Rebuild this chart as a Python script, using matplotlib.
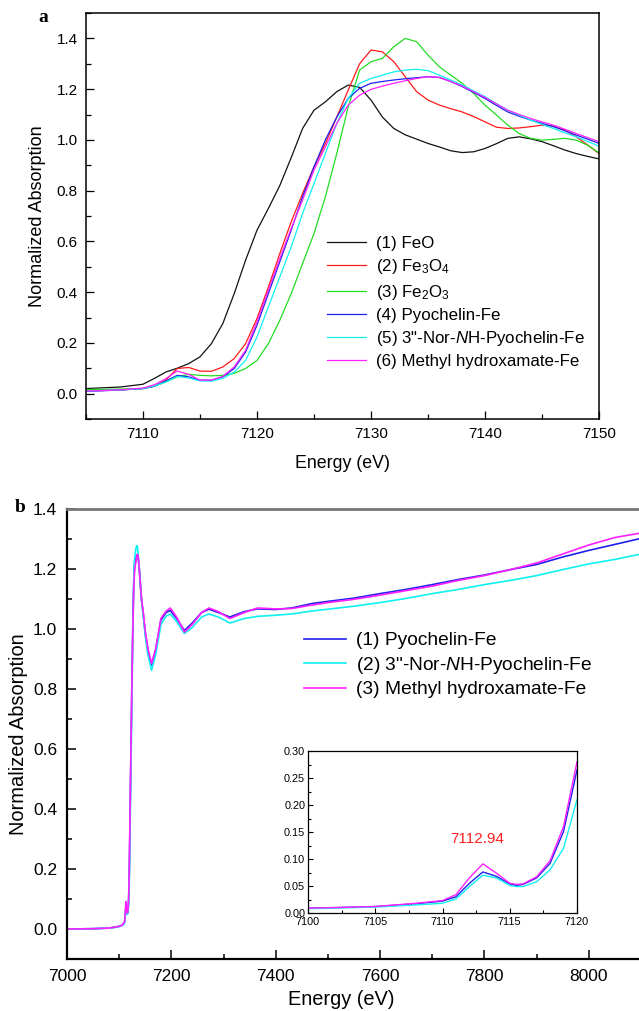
import numpy as np
import matplotlib
matplotlib.use("Agg")
import matplotlib.pyplot as plt
from matplotlib.ticker import MultipleLocator, FormatStrFormatter

plt.rcParams["font.family"] = ["Liberation Sans", "DejaVu Sans"]
plt.rcParams["mathtext.fontset"] = "custom"
plt.rcParams["mathtext.rm"] = "Liberation Sans"
plt.rcParams["mathtext.it"] = "Liberation Sans:italic"

# ---------------------------------------------------------------------------
# Panel a: XANES edge region, 7105-7150 eV
# ---------------------------------------------------------------------------
energy_a = [7105, 7108, 7110, 7111, 7112, 7113, 7114, 7115, 7116, 7117, 7118,
            7119, 7120, 7121, 7122, 7123, 7124, 7125, 7126, 7127, 7128, 7129,
            7130, 7131, 7132, 7133, 7134, 7135, 7136, 7137, 7138, 7139, 7140,
            7141, 7142, 7143, 7144, 7145, 7146, 7147, 7148, 7149, 7150]

feo = [0.020, 0.026, 0.037, 0.060, 0.085, 0.100, 0.118, 0.145, 0.197, 0.276,
       0.394, 0.526, 0.644, 0.730, 0.820, 0.930, 1.045, 1.117, 1.150, 1.190,
       1.216, 1.207, 1.157, 1.090, 1.045, 1.020, 1.003, 0.986, 0.972, 0.957,
       0.950, 0.953, 0.966, 0.985, 1.006, 1.012, 1.004, 0.993, 0.977, 0.960,
       0.946, 0.935, 0.925]
fe3o4 = [0.010, 0.015, 0.020, 0.029, 0.053, 0.099, 0.103, 0.089, 0.088, 0.105,
         0.138, 0.197, 0.296, 0.420, 0.552, 0.677, 0.789, 0.894, 0.986, 1.090,
         1.196, 1.300, 1.354, 1.347, 1.308, 1.249, 1.190, 1.157, 1.137, 1.123,
         1.110, 1.092, 1.071, 1.050, 1.045, 1.047, 1.052, 1.058, 1.054, 1.039,
         1.012, 0.980, 0.946]
fe2o3 = [0.016, 0.018, 0.020, 0.029, 0.046, 0.066, 0.076, 0.072, 0.070, 0.072,
         0.080, 0.099, 0.131, 0.197, 0.289, 0.394, 0.513, 0.631, 0.776, 0.947,
         1.130, 1.275, 1.308, 1.321, 1.367, 1.400, 1.387, 1.334, 1.288, 1.255,
         1.223, 1.183, 1.137, 1.098, 1.058, 1.025, 1.006, 0.999, 1.002, 1.006,
         0.999, 0.979, 0.949]
pyochelin = [0.009, 0.014, 0.020, 0.029, 0.050, 0.072, 0.066, 0.053, 0.053,
             0.066, 0.099, 0.164, 0.270, 0.394, 0.520, 0.644, 0.776, 0.894,
             1.000, 1.090, 1.163, 1.203, 1.223, 1.230, 1.236, 1.241, 1.245,
             1.249, 1.246, 1.230, 1.210, 1.187, 1.163, 1.136, 1.110, 1.093,
             1.078, 1.065, 1.052, 1.036, 1.019, 1.003, 0.986]
nor_nh = [0.010, 0.015, 0.020, 0.030, 0.046, 0.068, 0.062, 0.050, 0.049, 0.060,
          0.085, 0.131, 0.223, 0.342, 0.460, 0.578, 0.710, 0.828, 0.947, 1.065,
          1.163, 1.223, 1.242, 1.255, 1.268, 1.275, 1.278, 1.273, 1.255, 1.236,
          1.216, 1.193, 1.170, 1.143, 1.117, 1.097, 1.078, 1.061, 1.045, 1.028,
          1.012, 0.994, 0.975]
methyl = [0.010, 0.015, 0.022, 0.035, 0.059, 0.089, 0.076, 0.053, 0.053, 0.068,
          0.105, 0.171, 0.283, 0.408, 0.532, 0.651, 0.763, 0.881, 0.973, 1.065,
          1.137, 1.176, 1.199, 1.212, 1.223, 1.233, 1.242, 1.249, 1.246, 1.230,
          1.212, 1.190, 1.167, 1.142, 1.117, 1.100, 1.084, 1.071, 1.058, 1.042,
          1.025, 1.009, 0.993]

# ---------------------------------------------------------------------------
# Inset of panel b: pre-edge, 7100-7120 eV
# ---------------------------------------------------------------------------
energy_in = [7100, 7102, 7105, 7108, 7110, 7111, 7112, 7113, 7114, 7115,
             7115.5, 7116, 7117, 7118, 7119, 7120]
pyo_in = [0.009, 0.010, 0.012, 0.017, 0.022, 0.030, 0.055, 0.076, 0.068,
          0.054, 0.051, 0.053, 0.065, 0.092, 0.151, 0.265]
nor_in = [0.008, 0.009, 0.011, 0.015, 0.018, 0.026, 0.049, 0.070, 0.065,
          0.051, 0.049, 0.049, 0.058, 0.080, 0.120, 0.210]
met_in = [0.009, 0.010, 0.012, 0.018, 0.023, 0.034, 0.065, 0.091, 0.074,
          0.055, 0.053, 0.054, 0.067, 0.097, 0.160, 0.280]

# ---------------------------------------------------------------------------
# Panel b: full spectra; pre-edge start and EXAFS tail
# ---------------------------------------------------------------------------
energy_pre = [7000, 7050, 7080, 7095]
pyo_pre = [0.000, 0.001, 0.003, 0.007]
nor_pre = [0.000, 0.001, 0.003, 0.006]
met_pre = [0.000, 0.001, 0.003, 0.007]

energy_tail = [7155, 7162, 7170, 7180, 7190, 7198, 7210, 7225, 7240, 7258,
               7272, 7290, 7312, 7340, 7365, 7400, 7430, 7470, 7500, 7550,
               7600, 7650, 7700, 7750, 7800, 7850, 7900, 7950, 8000, 8050,
               8100]
pyo_tail = [0.930, 0.880, 0.930, 1.030, 1.055, 1.062, 1.035, 0.995, 1.020,
            1.055, 1.066, 1.055, 1.040, 1.058, 1.067, 1.065, 1.070, 1.085,
            1.092, 1.103, 1.118, 1.132, 1.148, 1.165, 1.180, 1.198, 1.215,
            1.240, 1.262, 1.282, 1.302]
nor_tail = [0.915, 0.862, 0.915, 1.015, 1.043, 1.050, 1.025, 0.985, 1.005,
            1.040, 1.050, 1.040, 1.020, 1.035, 1.042, 1.046, 1.050, 1.060,
            1.066, 1.076, 1.088, 1.102, 1.118, 1.132, 1.148, 1.162, 1.178,
            1.198, 1.217, 1.232, 1.250]
met_tail = [0.935, 0.885, 0.935, 1.035, 1.060, 1.070, 1.040, 0.990, 1.015,
            1.055, 1.070, 1.058, 1.035, 1.055, 1.070, 1.067, 1.068, 1.080,
            1.088, 1.099, 1.113, 1.128, 1.143, 1.162, 1.178, 1.198, 1.220,
            1.250, 1.280, 1.305, 1.320]

labels_a = ["(1) FeO", r"(2) Fe$_3$O$_4$", r"(3) Fe$_2$O$_3$",
            "(4) Pyochelin-Fe", r'(5) 3"-Nor-$\mathit{N}$H-Pyochelin-Fe',
            "(6) Methyl hydroxamate-Fe"]
labels_b = ["(1) Pyochelin-Fe", r'(2) 3"-Nor-$\mathit{N}$H-Pyochelin-Fe',
            "(3) Methyl hydroxamate-Fe"]
colors_a = ["#111111", "#ff1a1a", "#22dd22", "#2020ee", "#10f0f0", "#ff20ff"]
colors_b = ["#2020ee", "#10f0f0", "#ff20ff"]

fig = plt.figure(figsize=(6.39, 10.11), dpi=100)

# ---- panel a --------------------------------------------------------------
ax = fig.add_axes([86 / 639, 1 - 419 / 1011, 513 / 639, 406 / 1011])
for y, c, lab in zip([feo, fe3o4, fe2o3, pyochelin, nor_nh, methyl],
                     colors_a, labels_a):
    ax.plot(energy_a, y, color=c, lw=0.9, label=lab)
ax.set_xlim(7105, 7150)
ax.set_ylim(-0.1, 1.5)
ax.xaxis.set_major_locator(MultipleLocator(10))
ax.xaxis.set_minor_locator(MultipleLocator(5))
ax.set_yticks([0.0, 0.2, 0.4, 0.6, 0.8, 1.0, 1.2, 1.4])
ax.yaxis.set_minor_locator(MultipleLocator(0.1))
ax.yaxis.set_major_formatter(FormatStrFormatter("%.1f"))
ax.tick_params(which="both", direction="in", top=False, right=False,
               labelsize=11, width=0.9)
ax.tick_params(which="major", length=5.8, pad=6)
ax.tick_params(which="minor", length=3.4)
for s in ax.spines.values():
    s.set_linewidth(1.1)
ax.set_xlabel("Energy (eV)", fontsize=12.8)
ax.set_ylabel("Normalized Absorption", fontsize=13)
ax.xaxis.set_label_coords(0.5, -0.088)
ax.yaxis.set_label_coords(-0.078, 0.5)
ax.legend(loc="upper left", bbox_to_anchor=(0.47, 0.45), frameon=False,
          fontsize=12.2, handlelength=2.3, handletextpad=0.6,
          labelspacing=0.36, borderpad=0, borderaxespad=0)

# ---- panel b --------------------------------------------------------------
bx = fig.add_axes([67 / 639, 52 / 1011, 574 / 639, 450 / 1011])
e_b = energy_pre + energy_in + energy_a[energy_a.index(7121):] + energy_tail
for pre, ins, a_part, tail, c, lab in [
    (pyo_pre, pyo_in, pyochelin, pyo_tail, colors_b[0], labels_b[0]),
    (nor_pre, nor_in, nor_nh, nor_tail, colors_b[1], labels_b[1]),
    (met_pre, met_in, methyl, met_tail, colors_b[2], labels_b[2]),
]:
    y = pre + ins + a_part[energy_a.index(7121):] + tail
    bx.plot(e_b, y, color=c, lw=1.2, label=lab)
bx.set_xlim(7000, 8100)
bx.set_ylim(-0.1, 1.4)
bx.xaxis.set_major_locator(MultipleLocator(200))
bx.xaxis.set_minor_locator(MultipleLocator(100))
bx.set_yticks([0.0, 0.2, 0.4, 0.6, 0.8, 1.0, 1.2, 1.4])
bx.yaxis.set_minor_locator(MultipleLocator(0.1))
bx.yaxis.set_major_formatter(FormatStrFormatter("%.1f"))
bx.tick_params(which="both", direction="in", top=False, right=False,
               labelsize=12.5, width=1.1)
bx.tick_params(which="major", length=6.5, pad=7)
bx.tick_params(which="minor", length=3.6)
bx.spines["left"].set_linewidth(1.6)
bx.spines["bottom"].set_linewidth(1.6)
bx.spines["top"].set_linewidth(2.0)
bx.spines["top"].set_color("#777777")
bx.spines["right"].set_visible(False)
bx.set_xlabel("Energy (eV)", fontsize=14.4)
bx.set_ylabel("Normalized Absorption", fontsize=14.4)
bx.xaxis.set_label_coords(0.477, -0.069)
bx.yaxis.set_label_coords(-0.068, 0.5)
bx.legend(loc="upper left", bbox_to_anchor=(0.413, 0.727), frameon=False,
          fontsize=13.8, handlelength=2.2, handletextpad=0.5,
          labelspacing=0.28, borderpad=0, borderaxespad=0)

# ---- inset ----------------------------------------------------------------
ix = fig.add_axes([308 / 639, 1 - 913 / 1011, 269 / 639, 162 / 1011])
for y, c in zip([pyo_in, nor_in, met_in], colors_b):
    ix.plot(energy_in, y, color=c, lw=1.0)
ix.set_xlim(7100, 7120)
ix.set_ylim(0, 0.30)
ix.xaxis.set_major_locator(MultipleLocator(5))
ix.xaxis.set_minor_locator(MultipleLocator(2.5))
ix.yaxis.set_major_locator(MultipleLocator(0.05))
ix.yaxis.set_minor_locator(MultipleLocator(0.025))
ix.yaxis.set_major_formatter(FormatStrFormatter("%.2f"))
ix.tick_params(which="both", direction="in", top=False, right=False,
               labelsize=7.8, width=0.8)
ix.tick_params(axis="x", pad=3)
ix.tick_params(axis="y", pad=2)
ix.tick_params(which="major", length=3.5)
ix.tick_params(which="minor", length=2)
for s in ix.spines.values():
    s.set_linewidth(0.9)
ix.text(7112.6, 0.137, "7112.94", color="#ff2020", fontsize=11,
        ha="center", va="center")

# panel letters
fig.text(43 / 639, 1 - 18 / 1011, "a", family="Liberation Serif",
         fontweight="bold", fontsize=14, ha="center", va="center")
fig.text(20 / 639, 1 - 507 / 1011, "b", family="Liberation Serif",
         fontweight="bold", fontsize=14, ha="center", va="center")

fig.savefig("out.png", dpi=100)
